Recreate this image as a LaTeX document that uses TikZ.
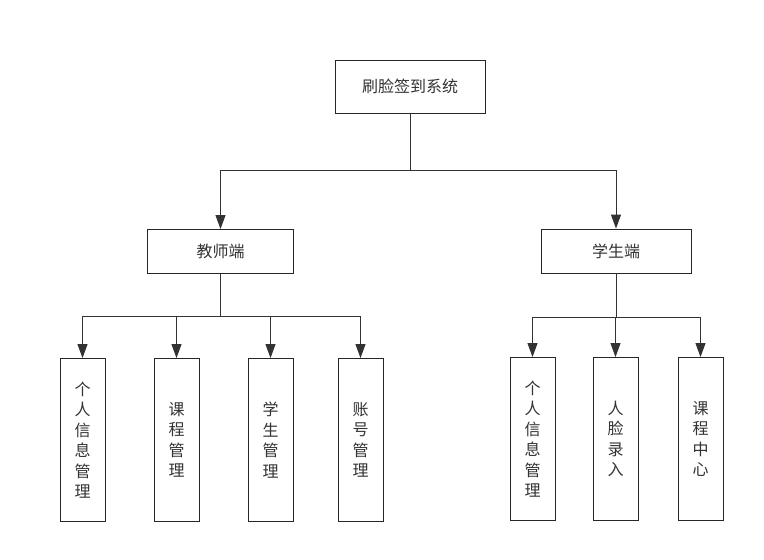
\documentclass[tikz,border=0pt]{standalone}
\usepackage{fontspec}
\newfontfamily\cjk{Noto Sans CJK SC}
\usetikzlibrary{arrows.meta}
\tikzset{
  box/.style={draw=black!85, line width=0.9pt, fill=white, inner sep=0pt, font=\cjk\fontsize{16}{20.5}\selectfont, text=black!80},
  hbox/.style={box, minimum width=146pt, minimum height=44pt},
  vbox/.style={box, minimum width=45pt, minimum height=163pt, align=center},
  conn/.style={draw=black!80, line width=0.9pt},
  arr/.style={conn, -{Triangle[width=10pt,length=14pt]}}
}
\begin{document}
\begin{tikzpicture}[x=1pt,y=-1pt]
\useasboundingbox (0,0) rectangle (764,560);
\node[hbox, minimum width=150pt, minimum height=53pt] (root) at (410,86.5) {刷脸签到系统};
\node[hbox] (t) at (220.5,251.5) {教师端};
\node[hbox, minimum width=150pt] (s) at (616,251) {学生端};
\node[vbox] (t1) at (82.5,440) {个\\人\\信\\息\\管\\理};
\node[vbox] (t2) at (176.5,440) {课\\程\\管\\理};
\node[vbox] (t3) at (270.5,440) {学\\生\\管\\理};
\node[vbox] (t4) at (360.5,440) {账\\号\\管\\理};
\node[vbox] (s1) at (532.5,439) {个\\人\\信\\息\\管\\理};
\node[vbox] (s2) at (615.5,439) {人\\脸\\录\\入};
\node[vbox] (s3) at (700.5,439) {课\\程\\中\\心};
\coordinate (j0) at (410,170);
\coordinate (j1) at (220.5,316);
\coordinate (j2) at (616,317);
\draw[conn] (root.south) -- (j0);
\draw[arr] (j0) -| (t.north);
\draw[arr] (j0) -| (s.north);
\draw[conn] (t.south) -- (j1);
\draw[arr] (j1) -| (t1.north);
\draw[arr] (j1) -| (t2.north);
\draw[arr] (j1) -| (t3.north);
\draw[arr] (j1) -| (t4.north);
\draw[conn] (s.south) -- (j2);
\draw[arr] (j2) -| (s1.north);
\draw[arr] (j2) -| (s2.north);
\draw[arr] (j2) -| (s3.north);
\end{tikzpicture}
\end{document}
